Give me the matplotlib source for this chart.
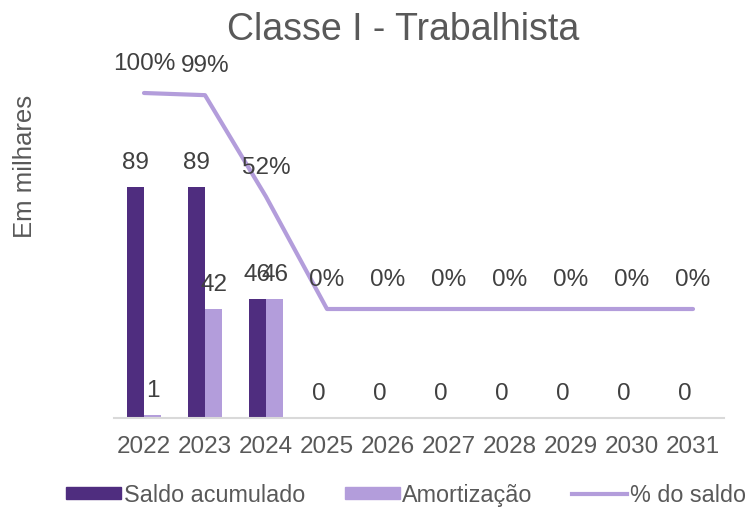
import numpy as np
import matplotlib
matplotlib.use("Agg")
import matplotlib.pyplot as plt
from matplotlib.patches import Patch
from matplotlib.lines import Line2D

anos = ["2022", "2023", "2024", "2025", "2026", "2027", "2028", "2029", "2030", "2031"]
saldo = [89, 89, 46, 0, 0, 0, 0, 0, 0, 0]
amortizacao = [1, 42, 46, np.nan, np.nan, np.nan, np.nan, np.nan, np.nan, np.nan]
pct_saldo = [1.00, 0.99, 0.52, 0, 0, 0, 0, 0, 0, 0]

ESCURO = "#4F2D7F"
CLARO = "#B39DDB"
CINZA = "#595959"

plt.rcParams["font.family"] = ["Liberation Sans", "DejaVu Sans"]
FS = 17.5

fig = plt.figure(figsize=(7.52, 5.1), dpi=100)
W, H = 752, 510
ax = fig.add_axes([113.5 / W, 1 - 419 / H, 610 / W, 359 / H])
ax2 = ax.twinx()
ax2.set_position(ax.get_position())

x = np.arange(len(anos))
bw = 0.279
ax.bar(x - bw / 2, saldo, bw, color=ESCURO, zorder=2)
ax.bar(x + bw / 2, amortizacao, bw, color=CLARO, zorder=2)
ax.set_xlim(-0.5, len(anos) - 0.5)
ax.set_ylim(0, 138.5)

for xi, v in zip(x, saldo):
    ax.annotate(f"{v:.0f}", (xi - bw / 2, v), xytext=(0, 18), textcoords="offset points",
                ha="center", va="center", fontsize=FS, color="#404040")
for xi, v in zip(x, amortizacao):
    if not np.isnan(v):
        ax.annotate(f"{v:.0f}", (xi + bw / 2, v), xytext=(0, 18), textcoords="offset points",
                    ha="center", va="center", fontsize=FS, color="#404040")

ax2.plot(x, pct_saldo, color=CLARO, lw=3, solid_capstyle="round", clip_on=False, zorder=3)
ax2.set_ylim(-0.5046, 1.1574)
for xi, p in zip(x, pct_saldo):
    ax2.annotate(f"{p:.0%}", (xi, p), xytext=(0, 21.6), textcoords="offset points",
                 ha="center", va="center", fontsize=FS, color="#404040")

for a in (ax, ax2):
    for s in ("top", "left", "right"):
        a.spines[s].set_visible(False)
    a.set_yticks([])
ax2.spines["bottom"].set_visible(False)
ax.spines["bottom"].set_color("#D9D9D9")
ax.spines["bottom"].set_linewidth(1.5)
ax.set_xticks(x)
ax.set_xticklabels(anos)
ax.tick_params(axis="x", length=0, pad=12, labelsize=FS, labelcolor=CINZA)

fig.text(403 / W, 1 - 30 / H, "Classe I - Trabalhista", ha="center", va="center",
         fontsize=27, color=CINZA)
fig.text(25 / W, 1 - 166 / H, "Em milhares", rotation=90, ha="center", va="center",
         fontsize=18.5, color=CINZA)

handles = [Patch(color=ESCURO), Patch(color=CLARO), Line2D([], [], color=CLARO, lw=3)]
fig.legend(handles, ["Saldo acumulado", "Amortização", "% do saldo"], loc="center",
           bbox_to_anchor=(406 / W, 1 - 496 / H), ncol=3, frameon=False, fontsize=16.8,
           labelcolor=CINZA, handlelength=2.36, handleheight=0.45, handletextpad=0.12,
           columnspacing=1.7, borderpad=0)

fig.savefig("out.png", dpi=100)
